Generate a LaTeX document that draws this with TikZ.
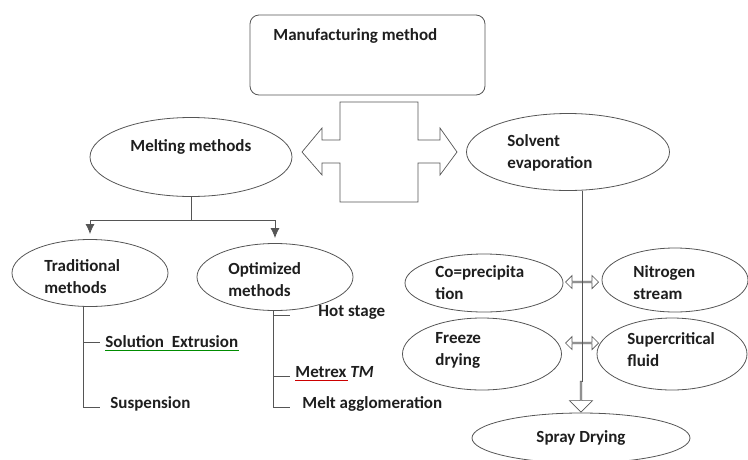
\documentclass[tikz,border=0pt]{standalone}
\usepackage{fontspec}
\setmainfont{Carlito}
\usetikzlibrary{positioning}
\usetikzlibrary{arrows.meta}
\usetikzlibrary{shapes.geometric}
\usetikzlibrary{shapes.arrows}
\definecolor{ink}{RGB}{85,85,85}
\definecolor{txt}{RGB}{30,30,30}

\begin{document}
\begin{tikzpicture}[x=1pt, y=-1pt, line width=0.8pt,
    every node/.style={font=\fontsize{17}{22}\selectfont\bfseries, text=txt},
    oval/.style={draw=ink, ellipse, inner sep=0pt},
    lbl/.style={anchor=base west, align=left, inner sep=0pt},
    leaf/.style={anchor=base west, inner sep=0pt},
    hollow/.style={draw=ink, fill=white, line width=0.7pt}]
    \useasboundingbox (0,0) rectangle (748,459);

    % top box and the big two-way arrow under it
    \node[draw=ink, rounded corners=9pt, minimum width=235pt, minimum height=80pt] (manuf) at (367.5,55) {};
    \node[lbl] (manuf-txt) at (273,40) {Manufacturing method};
    \draw[hollow] (340,102) -- (418,102) -- (418,140) -- (440,140) -- (440,128) -- (457,152)
        -- (440,175) -- (440,163) -- (418,163) -- (418,202) -- (340,202) -- (340,163)
        -- (322,163) -- (322,175) -- (302,152) -- (322,128) -- (322,140) -- (340,140) -- cycle;

    % melting side (base of a two-line label = its last line)
    \node[oval, minimum width=202pt, minimum height=79pt] (melt) at (191,157) {};
    \node[lbl] (melt-txt) at (130,151) {Melting methods};
    \node[oval, minimum width=156pt, minimum height=67pt] (trad) at (90,273) {};
    \node[lbl] (trad-txt) at (44,293) {Traditional\\methods};
    \node[oval, minimum width=156pt, minimum height=67pt] (opt) at (275,277) {};
    \node[lbl] (opt-txt) at (228,296) {Optimized\\methods};
    \draw[ink] (melt.south) -- ++(0,23) coordinate (fork);
    \foreach \n in {trad, opt} {
        \draw[ink, -{Latex[length=10pt, width=9pt]}] (fork) -| ([yshift=5pt]\n.north);
    }

    % traditional methods
    \node[leaf] (extr) at (105,347) {Solution\ \ Extrusion};
    \node[leaf] (susp) at (110,408) {Suspension};
    \coordinate (trad-base) at (83,307);
    \foreach \y/\n in {342/extr, 407/susp} {
        \coordinate (\n-tick) at (100,\y);
        \draw[ink] (trad-base) |- (\n-tick);
    }
    \draw[green!55!black, line width=0.5pt] ([yshift=-3pt]extr.base west) -- ([yshift=-3pt]extr.base east);

    % optimized methods
    \node[leaf] (hot) at (318,316) {Hot stage};
    \node[leaf] (metrex) at (295,377) {Metrex \textit{TM}};
    \node[leaf] (agglo) at (302,408) {Melt agglomeration};
    \coordinate (opt-base) at (273,310);
    \foreach \y/\n in {315/hot, 376/metrex, 407/agglo} {
        \coordinate (\n-tick) at (290,\y);
        \draw[ink] (opt-base) |- (\n-tick);
    }
    \draw[red!80!black, line width=0.5pt] ([yshift=-3pt]metrex.base west) -- ++(53,0);

    % solvent side
    \node[oval, minimum width=203pt, minimum height=77pt] (solv) at (568,152) {};
    \node[lbl] (solv-txt) at (507,168) {Solvent\\evaporation};
    \node[oval, minimum width=158pt, minimum height=58pt] (copre) at (484,283) {};
    \node[lbl] (copre-txt) at (435,299) {Co=precipita\\tion};
    \node[oval, minimum width=146pt, minimum height=64pt] (nitro) at (675,280) {};
    \node[lbl] (nitro-txt) at (633,299) {Nitrogen\\stream};
    \node[oval, minimum width=159pt, minimum height=72pt] (freeze) at (482,354) {};
    \node[lbl] (freeze-txt) at (435,365) {Freeze\\drying};
    \node[oval, minimum width=150pt, minimum height=72pt] (scf) at (672,354) {};
    \node[lbl] (scf-txt) at (627,366) {Supercritical\\fluid};
    \node[oval, minimum width=218pt, minimum height=50pt] (spray) at (581,438) {};
    \node[anchor=base, inner sep=0pt] (spray-txt) at (581,442) {Spray Drying};

    \draw[ink] (solv.south -| 582,0) coordinate (solv-foot) -- (582,382) coordinate (spray-stem);
    \node[hollow, double arrow, double arrow head extend=3pt, minimum width=13pt,
        minimum height=33pt, inner sep=0pt] (link1) at (582,282) {};
    \node[hollow, double arrow, double arrow head extend=3pt, minimum width=13pt,
        minimum height=33pt, inner sep=0pt] (link2) at (582,343) {};
    \draw[ink] (582,270) -- (582,356);
    \node[hollow, single arrow, rotate=-90, single arrow head extend=5pt, minimum width=23pt,
        minimum height=31pt, inner sep=0pt, anchor=tip] (down) at (spray.north) {};
\end{tikzpicture}
\end{document}
